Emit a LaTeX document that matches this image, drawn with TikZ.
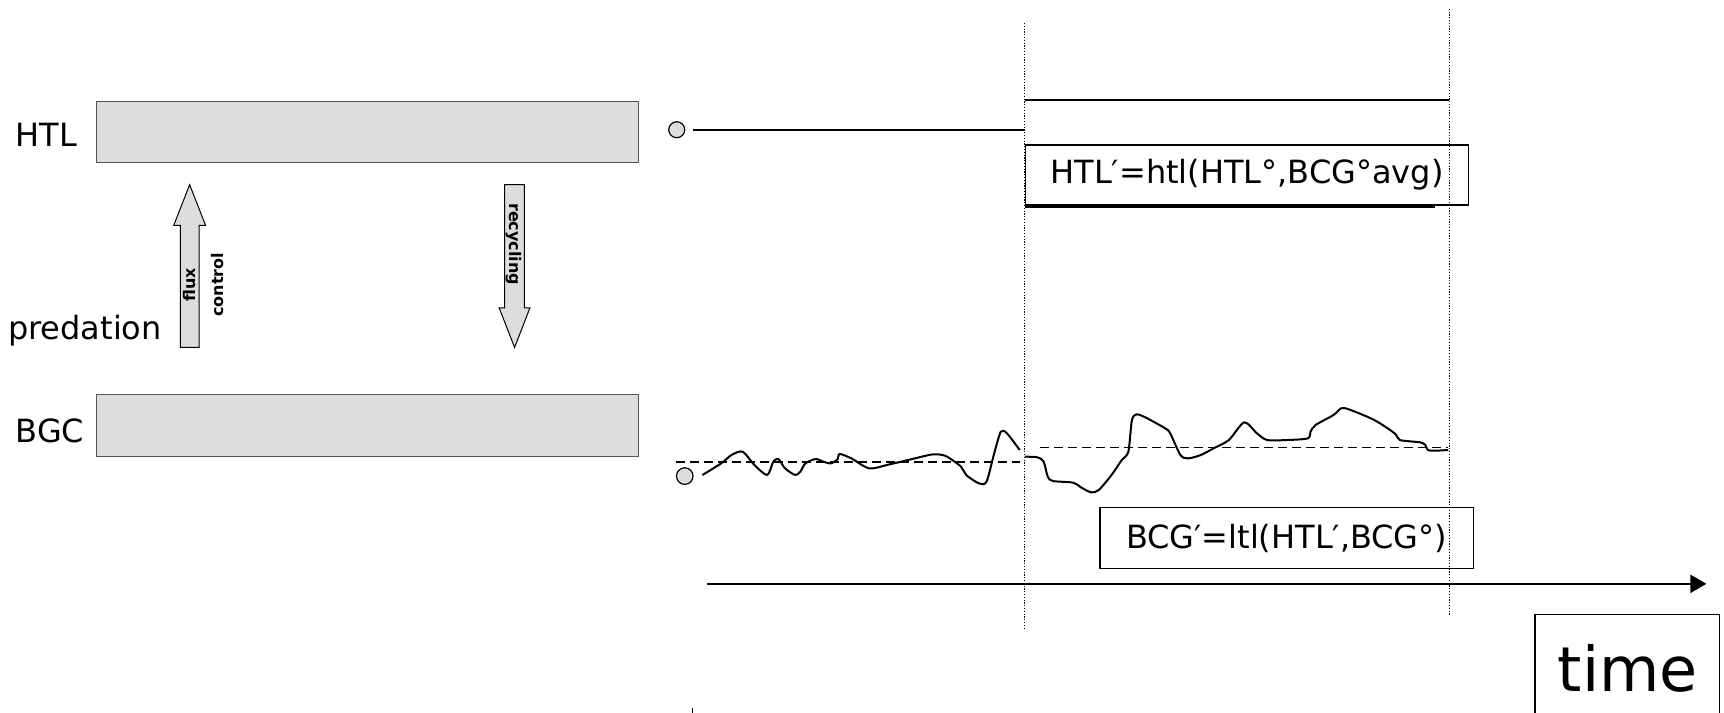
\documentclass[tikz,border=0pt]{standalone}
\usepackage{fontspec}
\setmainfont{DejaVu Sans}
\usetikzlibrary{arrows.meta}
\definecolor{boxgrey}{HTML}{DDDDDD}
\definecolor{edgegrey}{HTML}{555555}
\begin{document}
\begin{tikzpicture}[x=0.55pt,y=-0.55pt,
  lbl/.style={font=\fontsize{16}{19}\selectfont, inner sep=0pt, anchor=base west},
  level/.style={draw=edgegrey, line width=0.6pt, fill=boxgrey, inner sep=0pt, minimum width=271.15pt, minimum height=30.8pt},
  fat/.style={draw=black, line width=0.5pt, fill=boxgrey, line join=miter},
  tiny/.style={font=\bfseries\fontsize{8}{9}\selectfont, inner sep=0pt, align=center},
  guide/.style={line width=0.5pt, dash pattern=on 0.6pt off 0.8pt},
  traj/.style={line width=1pt, line join=round},
  mean/.style={line width=1pt, dash pattern=on 4.5pt off 2.5pt},
  eqbox/.style={draw, line width=0.7pt, font=\fontsize{16}{19}\selectfont, inner sep=0pt},
  dot/.style={circle, draw, line width=0.6pt, fill=boxgrey, inner sep=0pt, minimum size=8pt}
]
\useasboundingbox (0,0) rectangle (1568,648);

% left labels
\node[lbl] (lHTL) at (14,133) {HTL};
\node[lbl] (lpred) at (7,309) {predation};
\node[lbl] (lBGC) at (14,402) {BGC};

% grey level boxes
\node[level] (boxHTL) at (334.5,120) {};
\node[level] (boxBGC) at (334.5,387) {};

% flux control arrow (up)
\draw[fat] (164,316) -- (164,205) -- (158,205) -- (172.5,168) -- (187,205) -- (181,205) -- (181,316) -- cycle;
\node[tiny, rotate=90] (tflux) at (185,259) {flux\\[5pt]control};

% recycling arrow (down)
\draw[fat] (459,168) -- (459,280) -- (454,280) -- (468,316) -- (482,280) -- (477,280) -- (477,168) -- cycle;
\node[tiny, rotate=-90] (trec) at (467,222) {recycling};

% guide lines
\coordinate (g1top) at (932,21);
\coordinate (g1bot) at (932,573);
\coordinate (g2top) at (1318,8);
\coordinate (g2bot) at (1318,559);
\draw[guide] (g1top) -- (g1bot);
\draw[guide] (g2top) -- (g2bot);

% HTL trajectory
\node[dot] (dHTL) at (615.5,118) {};
\coordinate (hA) at (630,118);
\coordinate (hB) at (932,118);
\draw[line width=1pt] (hA) -- (hB);
\coordinate (hC) at (932,91);
\coordinate (hD) at (1318,91);
\draw[line width=1pt] (hC) -- (hD);

% equation boxes
\node[eqbox, minimum width=221.7pt, minimum height=30pt] (eqH) at (1134.2,159.2) {HTL′=htl(HTL°,BCG°avg)};
\draw[line width=1.2pt] ([yshift=-0.3pt]eqH.south west) -- ++(373,0);
\node[eqbox, minimum width=186.7pt, minimum height=30.4pt] (eqB) at (1170.2,489.4) {BCG′=ltl(HTL′,BCG°)};

% BGC trajectory
\node[dot, minimum width=8.3pt, minimum height=8pt] (dBGC) at (622.8,433) {};
\coordinate (m1a) at (615,420.5);
\coordinate (m1b) at (928,420.5);
\coordinate (m2a) at (946,407);
\coordinate (m2b) at (1317,407);
\draw[mean] (m1a) -- (m1b);
\draw[mean] (m2a) -- (m2b);

\begin{scope}[shift={(600.3,363.8)}, xscale=0.464, yscale=0.3032]
\draw[traj] plot[smooth, tension=0.45] coordinates {
 (83,225) (120,190) (140,165) (162,155) (185,195) (210,225) (222,185) (232,177)
 (245,205) (265,225) (275,215) (285,190) (305,177) (320,185) (335,190) (348,178)
 (352,162) (375,175) (410,205) (450,193) (500,175) (535,163) (560,168) (590,200)
 (600,225) (625,250) (640,245) (655,160) (668,95) (680,100) (705,150)};
\draw[traj] plot[smooth, tension=0.45] coordinates {
 (715,170) (740,172) (752,185) (760,230) (770,243) (810,248) (825,262) (845,277)
 (860,270) (885,225) (905,180) (918,155) (925,60) (935,43) (955,55) (990,85)
 (1000,100) (1020,165) (1035,175) (1060,165) (1085,145) (1115,120) (1145,67)
 (1170,100) (1190,120) (1230,120) (1270,115) (1275,95) (1285,75) (1320,45)
 (1335,25) (1350,28) (1400,60) (1440,100) (1450,120) (1490,127) (1500,135)
 (1505,150) (1520,152) (1545,150)};
\end{scope}

% time axis
\coordinate (t0) at (643,531);
\coordinate (t1) at (1552,531);
\draw[line width=1pt, -{Triangle[length=8pt,width=9pt]}] (t0) -- (t1);

% time box
\node[font=\fontsize{31}{36}\selectfont, inner sep=0pt, anchor=base] (ttime) at (1480.5,629) {time};
\draw[line width=0.7pt] (1396,650) -- (1396,559) -- (1564,559) -- (1564,650);

% small stray mark
\coordinate (sm1) at (630,644);
\coordinate (sm2) at (630,650);
\draw[line width=0.8pt] (sm1) -- (sm2);
\end{tikzpicture}
\end{document}
